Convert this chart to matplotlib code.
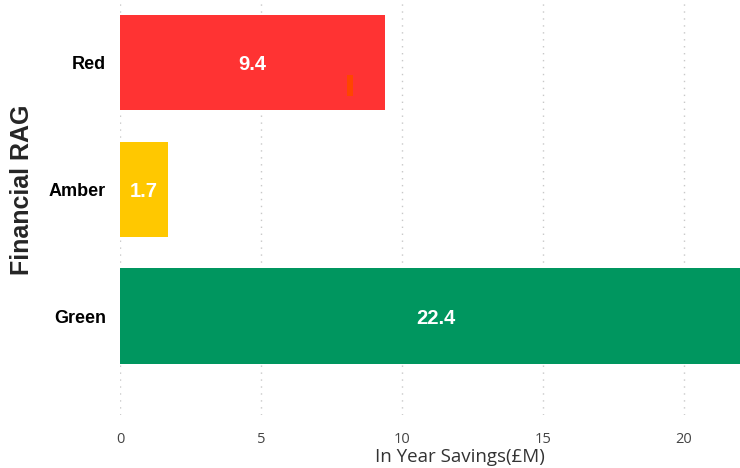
import matplotlib
matplotlib.use("Agg")
import matplotlib.pyplot as plt

categories = ["Red", "Amber", "Green"]
savings = [9.4, 1.7, 22.4]
bar_colors = ["#FF3333", "#FFC800", "#00965F"]
target_cat = "Red"
target_value = 8.1

fig = plt.figure(figsize=(7.4, 4.68), dpi=100)
ax = fig.add_axes([120 / 740, 1 - 415 / 468, 620 / 740, 415 / 468])

ypos = list(range(len(categories)))
ax.barh(ypos, savings, height=0.75, color=bar_colors, zorder=2)

for y, v in zip(ypos, savings):
    ax.text(v / 2, y, "%.1f" % v, ha="center", va="center_baseline",
            color="white", fontsize=14.5, fontweight="bold", family="Liberation Sans", zorder=3)

# small target marker
ty = categories.index(target_cat)
ax.barh(ty + 0.18, 0.22, left=target_value - 0.05, height=0.165, color="#FF4500", zorder=3)

ax.set_xlim(0, 22)
ax.set_ylim(2.78, -0.49)
ax.set_yticks(ypos)
ax.set_yticklabels(categories, fontsize=13, fontweight="bold", family="Liberation Sans",
                   va="center_baseline")
ax.set_xticks([0, 5, 10, 15, 20])
ax.tick_params(axis="x", length=0, labelsize=10.5, labelcolor="#444444", pad=12)
ax.tick_params(axis="y", length=0, pad=10)
for lab in ax.get_xticklabels():
    lab.set_family("Open Sans")

ax.grid(axis="x", linestyle=(0, (1, 4)), color="#C8C8C8", linewidth=1, zorder=0)
for s in ax.spines.values():
    s.set_visible(False)

ax.set_xlabel("In Year Savings(£M)", fontsize=13.5, color="#333333", family="Open Sans")
ax.xaxis.set_label_coords(340 / 620, -33 / 415)
fig.text(22 / 740, 1 - 190 / 468, "Financial RAG", rotation=90, ha="center", va="center",
         fontsize=18, fontweight="bold", color="#252525", family="Liberation Sans")

fig.savefig("out.png", dpi=100)
